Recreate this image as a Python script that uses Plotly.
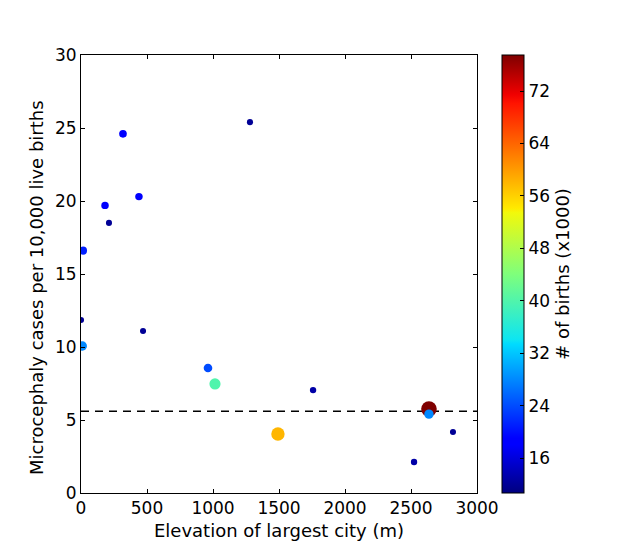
import plotly.graph_objects as go

elevation = [1280, 318, 439, 182, 212, 15, 0, 470, 0, 10, 962, 1015, 1758, 1492, 2636, 2636, 2818, 2523]
cases = [25.4, 24.6, 20.3, 19.7, 18.5, 16.6, 11.85, 11.1, 10.07, 10.07, 8.56, 7.47, 7.05, 4.04, 5.75, 5.4, 4.18, 2.12]
births = [12, 19, 18, 18, 12, 21, 12, 12, 22, 28, 24, 40, 13, 58, 78, 28, 12, 13]
threshold = 5.6

jet = [[0.0, "#00007f"], [0.11, "#0000ff"], [0.125, "#0000ff"], [0.34, "#00dbff"],
       [0.35, "#0de5f2"], [0.5, "#7fff7b"], [0.64, "#f2f90b"], [0.65, "#ffea00"],
       [0.89, "#ff1300"], [0.91, "#f00000"], [1.0, "#7f0000"]]

cmin, cmax = 10.7, 77.5
max_d = 11

fig = go.Figure()
fig.add_trace(go.Scatter(
    x=[0, 3000], y=[threshold, threshold], mode="lines",
    line=dict(color="black", dash="8px,6px", width=1.4), showlegend=False,
))
fig.add_trace(go.Scatter(
    x=elevation, y=cases, mode="markers",
    marker=dict(
        size=births, sizemode="area", sizeref=max(births) / (max_d ** 2),
        color=births, colorscale=jet, cmin=cmin, cmax=cmax, opacity=1,
        line=dict(width=0),
        colorbar=dict(
            title=dict(text="# of births (x1000)", side="right", font=dict(size=18, color="black")),
            x=1.063, xanchor="left", y=0.5, yanchor="middle", len=1.0, lenmode="fraction",
            ypad=0, xpad=0,
            thickness=22, outlinewidth=1, outlinecolor="black",
            tickvals=[16, 24, 32, 40, 48, 56, 64, 72], ticks="inside", ticklen=4,
            tickcolor="black", tickfont=dict(size=17, color="black"),
        ),
    ),
    showlegend=False,
))

axis_common = dict(showline=True, linecolor="black", linewidth=1, mirror="ticks",
                   ticks="inside", ticklen=4, tickcolor="black", showgrid=False, zeroline=False,
                   tickfont=dict(size=17, color="black"))
fig.update_xaxes(range=[0, 3000], tickvals=[0, 500, 1000, 1500, 2000, 2500, 3000],
                 title=dict(text="Elevation of largest city (m)", font=dict(size=18, color="black"), standoff=6),
                 **axis_common)
fig.update_yaxes(range=[0, 30], tickvals=[0, 5, 10, 15, 20, 25, 30], **axis_common)
fig.add_annotation(
    text="Microcephaly cases per 10,000 live births", textangle=-90,
    xref="paper", yref="paper", x=-0.114, y=0.47, xanchor="center", yanchor="middle",
    showarrow=False, font=dict(size=18, color="black"),
)
fig.update_layout(
    width=640, height=549, autosize=False,
    margin=dict(l=81, r=163, t=55, b=56),
    paper_bgcolor="white", plot_bgcolor="white",
    font=dict(family="DejaVu Sans", color="black"),
)
fig.write_html("out.html")
